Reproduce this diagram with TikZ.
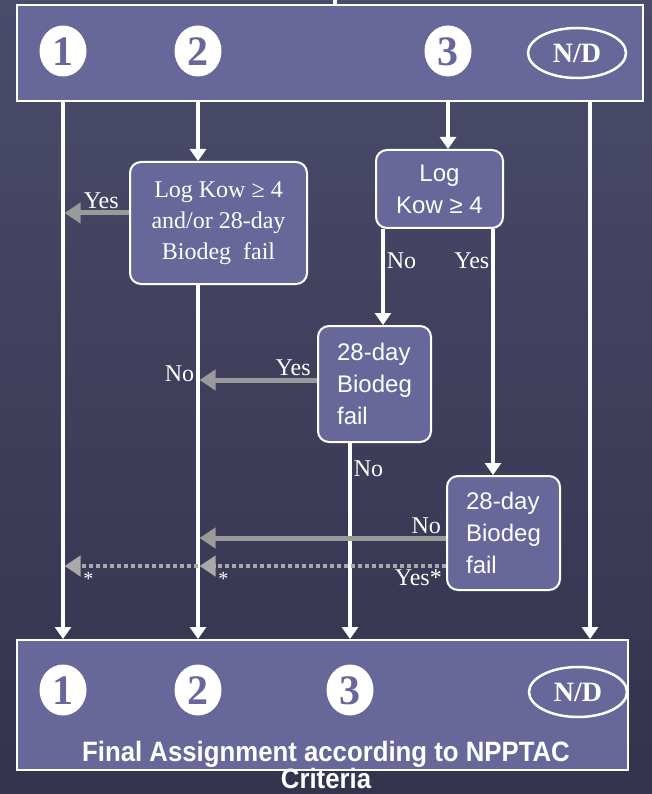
\documentclass[tikz,border=0pt]{standalone}
\usepackage{fontspec}
\setmainfont{Liberation Serif}
\setsansfont{Liberation Sans}
\usepackage{xcolor}
\usepackage{tikz}
\usetikzlibrary{arrows.meta,positioning,calc,shapes.geometric}
\definecolor{bgtop}{HTML}{4B4B6B}
\definecolor{bgbot}{HTML}{33334D}
\definecolor{boxfill}{HTML}{67679A}
\definecolor{arrowgray}{HTML}{9A9A9A}

\begin{document}
\begin{tikzpicture}[
  x=1pt,y=-1pt,
  panel/.style={draw=white,line width=2pt,fill=boxfill,inner sep=0pt},
  test/.style={draw=white,line width=2pt,fill=boxfill,rounded corners=11pt,text=white,
               align=center,inner sep=3pt,font=\fontsize{24}{31}\selectfont},
  testsf/.style={test,font=\sffamily\fontsize{24}{32}\selectfont},
  digit/.style={ellipse,fill=white,text=boxfill,inner sep=0pt,minimum width=47pt,
                minimum height=51pt,text height=28.5pt,text depth=0pt,
                font=\fontsize{42}{42}\selectfont\bfseries},
  ndmark/.style={ellipse,draw=white,line width=2.5pt,text=white,inner sep=0pt,
                 minimum width=98pt,minimum height=50pt,text height=18.5pt,text depth=0pt,
                 font=\fontsize{28}{28}\selectfont\bfseries},
  wire/.style={draw=white,line width=3.5pt},
  wireto/.style={wire,-{Triangle[width=16pt,length=12pt]}},
  branch/.style={draw=arrowgray,line width=5pt,shorten >=1.5pt,
                 -{Triangle[width=20pt,length=16pt]}},
  dotbranch/.style={draw=arrowgray!85,line width=4.5pt,dash pattern=on 4pt off 3pt,
                    shorten >=1.5pt,-{Triangle[width=20pt,length=16pt]}},
  lbl/.style={text=white,font=\fontsize{24}{24}\selectfont,inner sep=2pt},
  star/.style={lbl,below right,xshift=16pt,yshift=-2pt,font=\fontsize{20}{20}\selectfont}
]
\useasboundingbox (0,0) rectangle (652,794);
\shade[top color=bgtop,bottom color=bgbot] (0,0) rectangle (652,794);

% top and bottom panels
\node[panel,minimum width=626pt,minimum height=96pt] (top) at (330,53) {};
\node[panel,minimum width=611pt,minimum height=130pt] (bot) at (322.5,705) {};

\node[digit] (d1) at (63,51) {1};
\node[digit] (d2) at (198,51) {2};
\node[digit] (d3) at (448,51) {3};
\node[ndmark] (dnd) at (577,53) {N/D};
\node[digit] (b1) at (63,690) {1};
\node[digit] (b2) at (198,690) {2};
\node[digit] (b3) at (350,690) {3};
\node[ndmark] (bnd) at (578,692) {N/D};
\node[text=white,align=center,inner sep=0pt,
      font={\sffamily\bfseries\fontsize{28}{27}\selectfont\lineskiplimit=-100pt}]
  (caption) at (326,765)
  {\scalebox{0.92}[1]{Final Assignment according to NPPTAC}\\\scalebox{0.92}[1]{Criteria}};

% tests
\node[test,minimum width=177pt,minimum height=122pt] (kowor) at (218.5,223)
  {Log Kow ≥ 4\\and/or 28-day\\Biodeg\ \ fail};
\node[testsf,minimum width=127pt,minimum height=78pt] (kow) at (439.5,189) {Log\\Kow ≥ 4};
\node[testsf,align=left,minimum width=113pt,minimum height=116pt] (bioA) at (374.5,384)
  {28-day\\Biodeg\\fail};
\node[testsf,align=left,minimum width=113pt,minimum height=114pt] (bioB) at (503.5,533)
  {28-day\\Biodeg\\fail};

\coordinate (entry) at (335,0);
\coordinate (laneND) at (590,0);
\coordinate (kowNo) at (383,0);
\coordinate (kowYes) at (493,0);

% lanes
\draw[wire] (entry) -- (entry |- top.north);
\draw[wireto] (top.south -| d1) -- (bot.north -| d1);
\draw[wireto] (top.south -| d2) -- (kowor.north -| d2);
\draw[wireto] (kowor.south -| d2) -- node[lbl,left,pos=0.25]{No} (bot.north -| d2);
\draw[wireto] (top.south -| d3) -- (kow.north -| d3);
\draw[wireto] (kow.south -| kowNo) -- node[lbl,right,pos=0.33]{No} (bioA.north -| kowNo);
\draw[wireto] (kow.south -| kowYes) -- node[lbl,left,pos=0.13]{Yes} (bioB.north -| kowYes);
\draw[wireto] (bioA.south -| b3) -- node[lbl,right,pos=0.13]{No} (bot.north -| b3);
\draw[wireto] (top.south -| laneND) -- (bot.north -| laneND);

% branches
\draw[branch] ($(kowor.west)+(0,-10)$) -- node[lbl,above,pos=0.42]{Yes} ($(kowor.west -| d1)+(0,-10)$);
\draw[branch] ($(bioA.west)+(0,-4)$) -- node[lbl,above,pos=0.2]{Yes} ($(bioA.west -| d2)+(0,-4)$);
\draw[branch] ($(bioB.west)+(0,5)$) -- node[lbl,above,pos=0.08]{No} ($(bioB.west -| d2)+(0,5)$);
\draw[dotbranch] ($(bioB.west)+(0,33)$) node[lbl,below left]{Yes*} -- ($(bioB.west -| d2)+(0,33)$)
  node[star]{*};
\draw[dotbranch] ($(bioB.west -| d2)+(0,33)$) -- ($(bioB.west -| d1)+(0,33)$)
  node[star]{*};
\end{tikzpicture}
\end{document}
